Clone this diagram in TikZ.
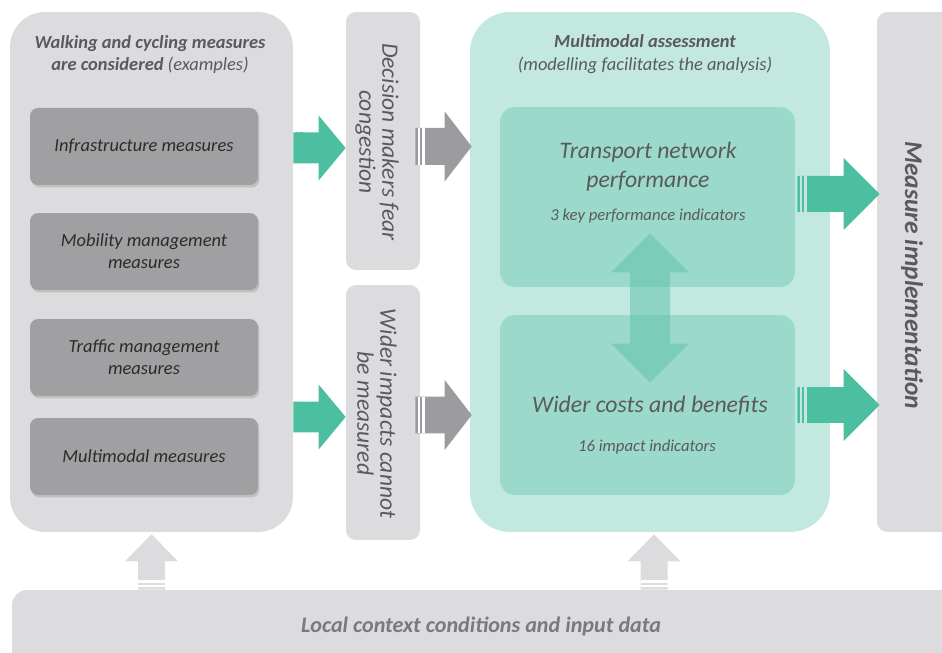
\documentclass[tikz,border=0pt]{standalone}
\usepackage{fontspec}
\setmainfont{Carlito}
\usetikzlibrary{calc,shadows}

\definecolor{panelgray}{HTML}{DCDCDE}
\definecolor{boxgray}{HTML}{A0A0A3}
\definecolor{arrowgray}{HTML}{9C9CA0}
\definecolor{arrowgreen}{HTML}{4CBFA0}
\definecolor{tealpanel}{HTML}{C3E8DF}
\definecolor{tealbox}{HTML}{9BDACA}
\definecolor{dblgreen}{RGB}{95,193,170}
\definecolor{textdark}{HTML}{2B2B2B}
\definecolor{textgray}{HTML}{5A5A5D}
\definecolor{textlight}{HTML}{7A7A7C}

% block arrow: [fill] {tail} {tip} {half shaft} {half head} {head length} {gap colour}
\newcommand{\fatarrow}[7][]{%
	\coordinate (fh) at ($(#3)!#6!(#2)$);
	\fill[#1] ($(#2)!#4!90:(#3)$) -- ($(fh)!#4!90:(#3)$) -- ($(fh)!#5!90:(#3)$) -- (#3)
		-- ($(fh)!#5!-90:(#3)$) -- ($(fh)!#4!-90:(#3)$) -- ($(#2)!#4!-90:(#3)$) -- cycle;
	\coordinate (fs1) at ($(#2)!0.08cm!(#3)$);
	\coordinate (fs2) at ($(#2)!0.17cm!(#3)$);
	\draw[#7, line width=0.04cm] ($(fs1)!#4!90:(#3)$) -- ($(fs1)!#4!-90:(#3)$);
	\draw[#7, line width=0.06cm] ($(fs2)!#4!90:(#3)$) -- ($(fs2)!#4!-90:(#3)$);
}
% double headed block arrow: [fill] {end a} {end b} {half shaft} {half head} {head length}
\newcommand{\dblarrow}[6][]{%
	\coordinate (da) at ($(#2)!#6!(#3)$);
	\coordinate (db) at ($(#3)!#6!(#2)$);
	\fill[#1] (#2) -- ($(da)!#5!90:(#3)$) -- ($(da)!#4!90:(#3)$) -- ($(db)!#4!90:(#3)$)
		-- ($(db)!#5!90:(#3)$) -- (#3) -- ($(db)!#5!-90:(#3)$) -- ($(db)!#4!-90:(#3)$)
		-- ($(da)!#4!-90:(#3)$) -- ($(da)!#5!-90:(#3)$) -- cycle;
}

\begin{document}
\begin{tikzpicture}[
		x = 0.02cm, y = 0.02cm, % one unit is one pixel
		inner sep = 0pt,
		align = center
	]
	
	\tikzstyle{panel}=[fill = panelgray]
	\tikzstyle{measure}=[
	fill = boxgray,
	rounded corners = 0.16cm,
	minimum width = 4.56cm,
	minimum height = 1.54cm,
	text = textdark,
	font = \itshape\fontsize{10.5}{12.5}\selectfont,
	drop shadow = {shadow xshift = 0.03cm, shadow yshift = -0.05cm, opacity = 0.3}
	]
	\tikzstyle{heading}=[text = textgray, font = \itshape\fontsize{10.5}{13}\selectfont]
	\tikzstyle{vtext}=[text = textgray, rotate = -90, font = \itshape\fontsize{13.4}{13}\selectfont]
	\tikzstyle{big}=[text = textgray, font = \itshape\fontsize{13.5}{16.5}\selectfont]
	\tikzstyle{small}=[text = textgray, font = \itshape\fontsize{9.5}{11}\selectfont]
	
	\clip (0,0) rectangle (942,652);
	
	% left column
	\node[panel, rounded corners = 0.7cm, minimum width = 5.66cm, minimum height = 10.4cm] (L) at (151.5,380) {};
	\node[heading] (Lt) at (150,597.5) {\textbf{Walking and cycling measures}\\\textbf{are considered} (examples)};
	\node[measure] (m1) at (144,505.5) {Infrastructure measures};
	\node[measure] (m2) at (144,400.5) {Mobility management\\measures};
	\node[measure] (m3) at (144,294.5) {Traffic management\\measures};
	\node[measure] (m4) at (144,195.5) {Multimodal measures};
	
	% barriers
	\node[panel, rounded corners = 0.2cm, minimum width = 1.48cm, minimum height = 5.16cm] (d1) at (383,511) {};
	\node[panel, rounded corners = 0.2cm, minimum width = 1.48cm, minimum height = 5.1cm] (d2) at (383,239.5) {};
	\node[vtext] (d1t) at (377,510) {Decision makers fear\\congestion};
	\node[vtext] (d2t) at (377,238.5) {Wider impacts cannot\\be measured};
	
	% assessment
	\node[fill = tealpanel, rounded corners = 0.8cm, minimum width = 7.2cm, minimum height = 10.4cm] (T) at (650,380) {};
	\node[heading] (Tt) at (645,597.5) {\textbf{Multimodal assessment}\\(modelling facilitates the analysis)};
	\node[fill = tealbox, rounded corners = 0.3cm, minimum width = 5.9cm, minimum height = 3.6cm] (tn) at (647.5,455) {};
	\node[fill = tealbox, rounded corners = 0.3cm, minimum width = 5.9cm, minimum height = 3.6cm] (wc) at (647.5,247) {};
	\node[big] (tnt) at (648,485.5) {Transport network\\performance};
	\node[small] (tnk) at (648,436) {3 key performance indicators};
	\node[big] (wct) at (650,246) {Wider costs and benefits};
	\node[small] (wck) at (647,205) {16 impact indicators};
	
	% implementation and context
	\node[panel, rounded corners = 0.2cm, minimum width = 2.26cm, minimum height = 10.4cm] (R) at (933.5,380) {};
	\node[text = textgray, rotate = -90, font = \bfseries\itshape\fontsize{14.5}{16}\selectfont] (Rt) at (912,377) {Measure implementation};
	\node[panel, rounded corners = 0.3cm, minimum width = 19.56cm, minimum height = 2cm] (B) at (501,12) {};
	\node[text = textlight, font = \bfseries\itshape\fontsize{12.6}{14}\selectfont] (Bt) at (481,26) {Local context conditions and input data};
	
	% arrows
	\coordinate (g1a) at (L.east |- 0,504);
	\coordinate (g1b) at (d1.west |- 0,504);
	\coordinate (g2a) at (L.east |- 0,235);
	\coordinate (g2b) at (d2.west |- 0,235);
	\fatarrow[fill = arrowgreen]{g1a}{g1b}{0.31cm}{0.65cm}{0.54cm}{arrowgreen}
	\fatarrow[fill = arrowgreen]{g2a}{g2b}{0.31cm}{0.65cm}{0.54cm}{arrowgreen}
	
	\coordinate (k1a) at ($(d1.east |- 0,505.5)+(-5,0)$);
	\coordinate (k1b) at ($(T.west |- 0,505.5)+(2,0)$);
	\coordinate (k2a) at ($(d2.east |- 0,237)+(-5,0)$);
	\coordinate (k2b) at ($(T.west |- 0,237)+(2,0)$);
	\fatarrow[fill = arrowgray]{k1a}{k1b}{0.37cm}{0.7cm}{0.54cm}{white}
	\fatarrow[fill = arrowgray]{k2a}{k2b}{0.37cm}{0.7cm}{0.54cm}{white}
	
	\coordinate (r1a) at ($(tn.east)+(2,3)$);
	\coordinate (r1b) at ($(R.west |- r1a)+(3,0)$);
	\coordinate (r2a) at ($(wc.east)+(2,0)$);
	\coordinate (r2b) at ($(R.west |- r2a)+(3,0)$);
	\fatarrow[fill = arrowgreen]{r1a}{r1b}{0.36cm}{0.72cm}{0.72cm}{tealpanel}
	\fatarrow[fill = arrowgreen]{r2a}{r2b}{0.36cm}{0.72cm}{0.72cm}{tealpanel}
	
	\coordinate (u1a) at (B.north -| L.south);
	\coordinate (u1b) at ($(L.south)+(0,-2)$);
	\coordinate (u2a) at ($(B.north -| T.south)+(4,0)$);
	\coordinate (u2b) at ($(T.south)+(4,-2)$);
	\fatarrow[fill = panelgray]{u1a}{u1b}{0.27cm}{0.53cm}{0.54cm}{white}
	\fatarrow[fill = panelgray]{u2a}{u2b}{0.27cm}{0.53cm}{0.54cm}{white}
	
	\coordinate (v1) at ($(tn.south)+(2.5,54)$);
	\coordinate (v2) at ($(wc.north)+(2.5,-68)$);
	\dblarrow[fill = dblgreen, opacity = 0.525]{v1}{v2}{0.4cm}{0.78cm}{0.78cm}
\end{tikzpicture}
\end{document}
